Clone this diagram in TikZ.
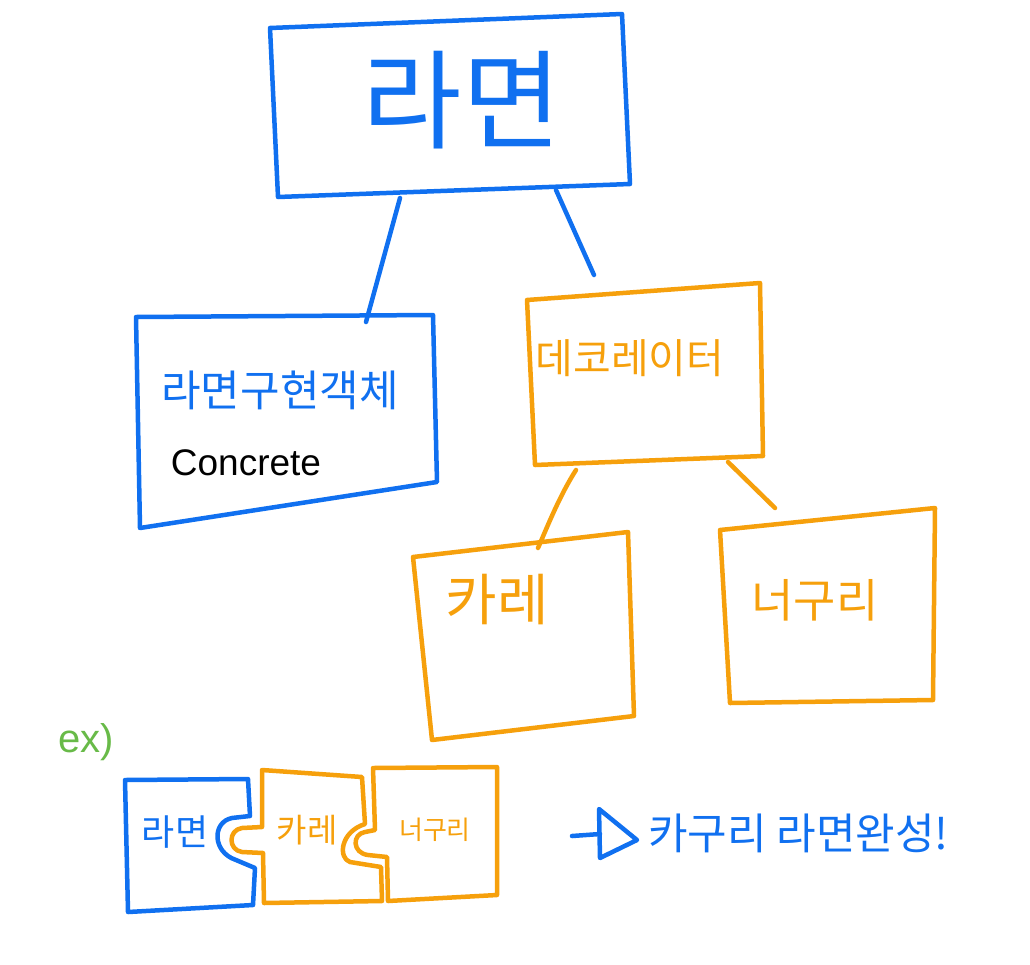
\documentclass[tikz,border=0pt]{standalone}
\usepackage{fontspec}
\newfontfamily\kr{Noto Sans CJK KR}
\setmainfont{Liberation Sans}
\definecolor{pblue}{RGB}{16,112,240}
\definecolor{porange}{RGB}{246,160,12}
\definecolor{pgreen}{RGB}{104,186,72}
\tikzset{
 bluestroke/.style={draw=pblue,line width=4.5pt,line cap=round,line join=round},
 orangestroke/.style={draw=porange,line width=4.5pt,line cap=round,line join=round},
 lbl/.style={inner sep=0pt},
}
\newcommand{\fs}[1]{\fontsize{#1}{#1}\selectfont}
\begin{document}
\begin{tikzpicture}[x=1pt,y=-1pt]
\useasboundingbox (0,0) rectangle (1030,964);
% top box
\draw[bluestroke] (270,28) -- (622,14) -- (630,184) -- (278,197) -- cycle;
\node[lbl,text=pblue,font=\kr\fs{108}] (ramen) at (462,100) {라면};
% concrete box
\draw[bluestroke] (136,317) -- (433,315) -- (437,482) -- (140,528) -- cycle;
\node[lbl,text=pblue,font=\kr\fs{43}] (impl) at (280,390) {라면구현객체};
\node[lbl,text=black,font=\fs{37}] (conc) at (246,463) {Concrete};
% decorator box
\draw[orangestroke] (527,300) -- (760,283) -- (763,456) -- (535,465) -- cycle;
\node[lbl,text=porange,font=\kr\fs{41}] (deco) at (630,358) {데코레이터};
% curry box
\draw[orangestroke] (413,557) -- (628,532) -- (634,716) -- (432,740) -- cycle;
\node[lbl,text=porange,font=\kr\fs{56}] (curry) at (497,600) {카레};
% neoguri box
\draw[orangestroke] (720,530) -- (935,508) -- (933,700) -- (730,703) -- cycle;
\node[lbl,text=porange,font=\kr\fs{46}] (neo) at (815,600) {너구리};
% connectors
\coordinate (t1) at (400,198); \coordinate (c1) at (366,322);
\coordinate (t2) at (556,190); \coordinate (d1) at (594,275);
\coordinate (d2) at (576,470); \coordinate (k1) at (538,548);
\coordinate (d3) at (728,462); \coordinate (n1) at (775,508);
\draw[bluestroke] (t1) -- (c1);
\draw[bluestroke] (t2) -- (d1);
\draw[orangestroke] (d2) .. controls (560,495) and (548,525) .. (k1);
\draw[orangestroke] (d3) -- (n1);
% ex)
\node[lbl,text=pgreen,font=\fs{40}] (ex) at (86,742) {ex)};
% puzzle pieces
\draw[bluestroke] (125,780) -- (248,779) -- (250,816) -- (232,818)
  .. controls (212,822) and (212,852) .. (236,860) -- (255,868) -- (253,905) -- (128,912) -- cycle;
\node[lbl,text=pblue,font=\kr\fs{36}] (p1) at (175,832) {라면};
\draw[orangestroke] (262,770) -- (362,777) -- (365,824)
  .. controls (340,832) and (338,858) .. (350,862) -- (381,867) -- (382,901) -- (264,903) -- (263,853) -- (242,852)
  .. controls (228,850) and (228,830) .. (242,828) -- (262,827) -- cycle;
\node[lbl,text=porange,font=\kr\fs{33}] (p2) at (307,830) {카레};
\draw[orangestroke] (373,768) -- (497,767) -- (497,895) -- (388,901) -- (387,857) -- (368,855)
  .. controls (352,853) and (352,834) .. (365,832) -- (375,830) -- cycle;
\node[lbl,text=porange,font=\kr\fs{26}] (p3) at (435,830) {너구리};
% result arrow
\coordinate (as) at (572,836); \coordinate (ae) at (600,834);
\draw[bluestroke] (as) -- (ae);
\draw[bluestroke] (599,809) -- (637,840) -- (600,858) -- cycle;
\node[lbl,text=pblue,font=\kr\fs{43},anchor=west] (res) at (648,833) {카구리 라면완성!};
\end{tikzpicture}
\end{document}
